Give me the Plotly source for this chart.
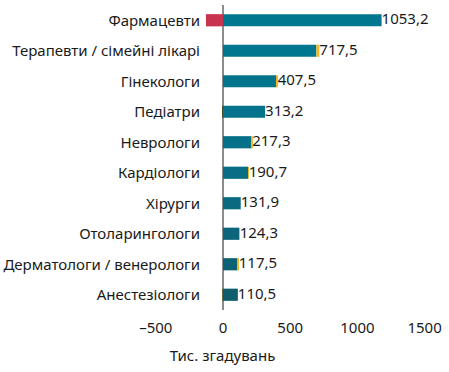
import plotly.graph_objects as go

categories = ["Фармацевти", "Терапевти / сімейні лікарі", "Гінекологи", "Педіатри",
              "Неврологи", "Кардіологи", "Хірурги", "Отоларингологи",
              "Дерматологи / венерологи", "Анестезіологи"]
negative_vals = [-127, 0, 0, -3, 0, 0, 0, 0, 0, -2]
main_vals = [1180, 695, 397, 313, 213, 186, 131.9, 121, 110, 110.5]
extra_vals = [0, 22, 10, 0, 4, 5, 0, 3, 7, 0]
total_labels = ["1053,2", "717,5", "407,5", "313,2", "217,3", "190,7",
                "131,9", "124,3", "117,5", "110,5"]
x_ticks = [-500, 0, 500, 1000, 1500]
x_tick_text = ["–500", "0", "500", "1000", "1500"]

main_colors = ["#00778f", "#00778f", "#02758d", "#04738b", "#067089",
               "#086d85", "#0a6a80", "#0c657a", "#0d6174", "#0f5d6d"]
neg_colors = ["#c8344f", "#c8344f", "#c8344f", "#4a4a2a", "#c8344f",
              "#c8344f", "#c8344f", "#c8344f", "#c8344f", "#6a6a3a"]

pos_end = [m + e for m, e in zip(main_vals, extra_vals)]

fig = go.Figure()
fig.add_bar(y=categories, x=negative_vals, orientation="h", width=0.4,
            marker=dict(color=neg_colors, line_width=0))
fig.add_bar(y=categories, x=main_vals, orientation="h", width=0.4,
            marker=dict(color=main_colors, line_width=0))
fig.add_bar(y=categories, x=extra_vals, orientation="h", width=0.4,
            marker=dict(color="#f2b82a", line_width=0))
fig.add_scatter(y=categories, x=pos_end, mode="text", text=total_labels,
                textposition="middle right",
                textfont=dict(family="Noto Sans", size=15, color="#1a1a1a"),
                cliponaxis=False, hoverinfo="skip")

x0_px = 223
scale = 0.1344
left, right = 5, 440
fig.update_layout(
    width=449, height=372,
    margin=dict(l=left, r=449 - right, t=5, b=62),
    barmode="relative",
    showlegend=False,
    plot_bgcolor="white", paper_bgcolor="white",
    font=dict(family="Noto Sans", size=15, color="#1a1a1a"),
    xaxis=dict(range=[-(x0_px - left) / scale, (right - x0_px) / scale],
               tickvals=x_ticks, ticktext=x_tick_text,
               showgrid=False, zeroline=True, zerolinecolor="#8c8c8c",
               zerolinewidth=2, showline=False, ticks="",
               ticklabelstandoff=7, automargin=False,
               title=dict(text="Тис. згадувань", standoff=14,
                          font=dict(size=15))),
    yaxis=dict(autorange="reversed", showgrid=False, showline=False,
               ticks="", anchor="free", automargin=False,
               position=(x0_px - left) / (right - left),
               ticklabelstandoff=23),
    bargap=0.6,
)
fig.write_html("out.html", config={"displayModeBar": False},
               post_script="document.body.style.margin='0';")
